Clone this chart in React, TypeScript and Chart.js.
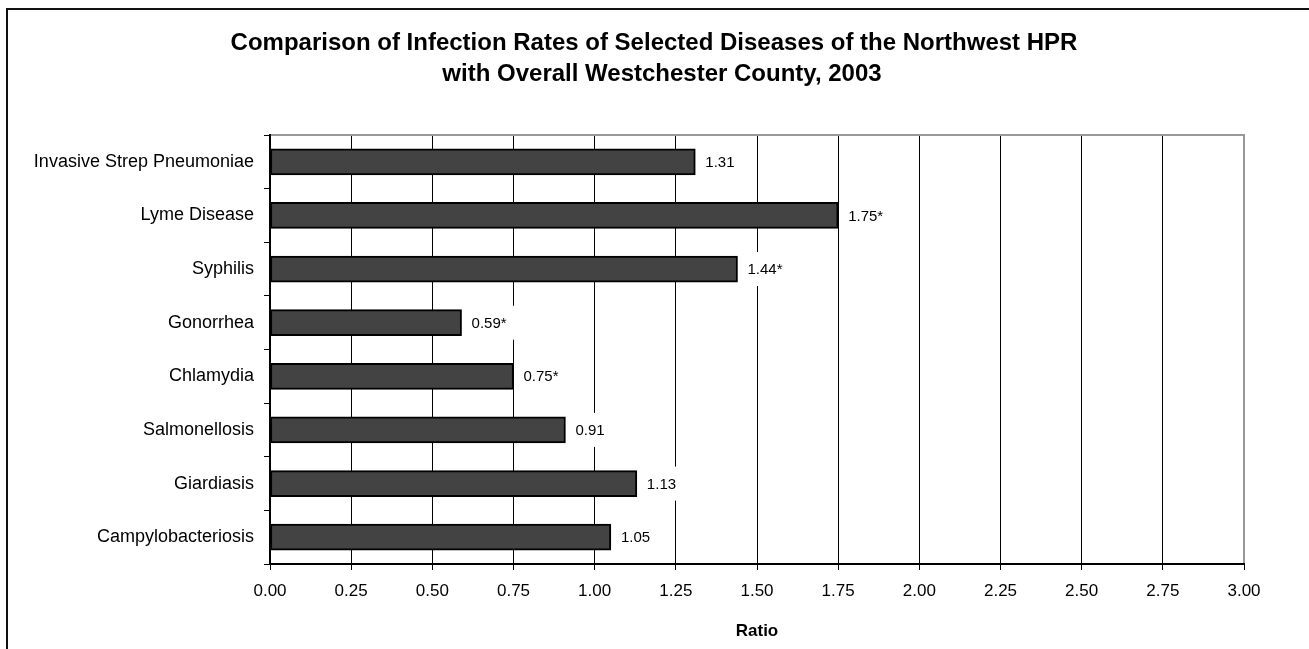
import React, { useEffect, useRef } from 'react';
import { Chart, registerables } from 'chart.js';

Chart.register(...registerables);

const FONT = "'Liberation Sans', Arial, Helvetica, sans-serif";

const titleLines = [
  'Comparison of Infection Rates of Selected Diseases of the Northwest HPR',
  'with Overall Westchester County, 2003',
];
const categories = [
  'Invasive Strep Pneumoniae',
  'Lyme Disease',
  'Syphilis',
  'Gonorrhea',
  'Chlamydia',
  'Salmonellosis',
  'Giardiasis',
  'Campylobacteriosis',
];
const ratios = [1.31, 1.75, 1.44, 0.59, 0.75, 0.91, 1.13, 1.05];
const significant = [false, true, true, true, true, false, false, false];
const xMin = 0;
const xMax = 3;
const xStep = 0.25;
const xAxisTitle = 'Ratio';

const framePlugin = {
  id: 'excelFrame',
  afterDraw(chart: any) {
    const { ctx, chartArea } = chart;
    ctx.save();
    // outer chart frame (extends beyond the picture on right/bottom)
    ctx.strokeStyle = '#111';
    ctx.lineWidth = 2;
    ctx.beginPath();
    ctx.moveTo(7, chart.height + 2);
    ctx.lineTo(7, 9);
    ctx.lineTo(chart.width + 2, 9);
    ctx.stroke();
    // plot area top/right gray border
    ctx.strokeStyle = '#999';
    ctx.lineWidth = 2;
    ctx.beginPath();
    ctx.moveTo(chartArea.left + 1, chartArea.top);
    ctx.lineTo(chartArea.right, chartArea.top);
    ctx.lineTo(chartArea.right, chartArea.bottom - 1);
    ctx.stroke();
    // title
    ctx.fillStyle = '#000';
    ctx.font = `bold 24px ${FONT}`;
    ctx.textAlign = 'center';
    ctx.textBaseline = 'alphabetic';
    ctx.fillText(titleLines[0], 654, 50);
    ctx.fillText(titleLines[1], 662, 81);
    ctx.restore();
  },
};

const valueLabelPlugin = {
  id: 'valueLabels',
  afterDatasetsDraw(chart: any) {
    const { ctx } = chart;
    const meta = chart.getDatasetMeta(0);
    ctx.save();
    ctx.font = `15px ${FONT}`;
    ctx.textBaseline = 'middle';
    ctx.textAlign = 'left';
    meta.data.forEach((bar: any, i: number) => {
      const text = ratios[i].toFixed(2) + (significant[i] ? '*' : '');
      const tw = ctx.measureText(text).width;
      const tx = bar.x + 10;
      ctx.fillStyle = '#fff';
      ctx.fillRect(bar.x + 2, bar.y - 17, tw + 16, 34);
      ctx.fillStyle = '#000';
      ctx.fillText(text, tx, bar.y + 1);
    });
    ctx.restore();
  },
};

export default function App() {
  const ref = useRef<HTMLCanvasElement>(null);

  useEffect(() => {
    const canvas = ref.current;
    if (!canvas) return;
    const nTicks = Math.round((xMax - xMin) / xStep);
    const chart = new Chart(canvas, {
      type: 'bar',
      data: {
        labels: categories,
        datasets: [
          {
            data: ratios,
            backgroundColor: '#434343',
            borderColor: '#000',
            borderWidth: 2,
            borderSkipped: false,
            barThickness: 26,
          },
        ],
      },
      options: {
        indexAxis: 'y',
        responsive: false,
        animation: false,
        devicePixelRatio: 1,
        layout: { padding: { left: 0, right: 65, top: 135, bottom: 0 } },
        plugins: {
          legend: { display: false },
          tooltip: { enabled: false },
          title: { display: false },
        },
        scales: {
          x: {
            type: 'linear',
            min: xMin,
            max: xMax,
            afterFit(scale: any) {
              scale.height = 85;
            },
            ticks: {
              stepSize: xStep,
              color: '#000',
              font: { family: FONT, size: 17 },
              padding: 11,
              maxRotation: 0,
              callback: (v: any) => Number(v).toFixed(2),
            },
            grid: {
              color: (c: any) => (c.index === nTicks ? 'rgba(0,0,0,0)' : '#000'),
              lineWidth: 1,
              drawTicks: true,
              tickLength: 6,
              tickColor: '#000',
            },
            border: { display: true, color: '#000', width: 2 },
            title: {
              display: true,
              text: xAxisTitle,
              color: '#000',
              font: { family: FONT, size: 17, weight: 'bold' },
              padding: { top: 0, bottom: 7 },
            },
          },
          y: {
            type: 'category',
            afterFit(scale: any) {
              scale.width = 270;
            },
            ticks: {
              color: '#000',
              font: { family: FONT, size: 18 },
              padding: 10,
            },
            grid: {
              offset: true,
              drawOnChartArea: false,
              drawTicks: true,
              tickLength: 6,
              tickColor: '#000',
              color: '#000',
            },
            border: { display: true, color: '#000', width: 2 },
          },
        },
      },
      plugins: [valueLabelPlugin, framePlugin],
    } as any);
    return () => chart.destroy();
  }, []);

  return (
    <div style={{ position: 'fixed', left: 0, top: 0, width: 1309, height: 649, background: '#fff' }}>
      <canvas ref={ref} width={1309} height={649} style={{ display: 'block', width: 1309, height: 649 }} />
    </div>
  );
}
